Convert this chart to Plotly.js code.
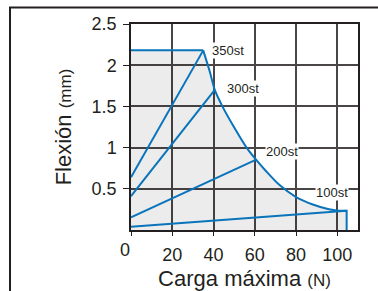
<!DOCTYPE html>
<html>
<head>
<meta charset="utf-8">
<script src="https://cdn.plot.ly/plotly-3.0.1.min.js"></script>
<style>
  html, body { margin: 0; padding: 0; background: #fff; }
</style>
</head>
<body>
<div id="chart" style="width:378px;height:291px"></div>
<script>
// ---- data ----
const strokeLabels = ['350st', '300st', '200st', '100st'];
const lineStartY   = [0.64, 0.41, 0.155, 0.04];   // deflection at 0 N
const lineEndX     = [35, 40.6, 60.4, 104.5];     // max load (N)
const lineEndY     = [2.18, 1.70, 0.85, 0.235];   // deflection at max load (mm)

// envelope (upper limit curve)
const topX   = [0, 35];
const topY   = [2.18, 2.18];
const curveX = [35, 38.2, 40.6, 44.3, 49.4, 56, 60.4, 65.6, 72, 80, 88.1, 94.5, 100];
const curveY = [2.18, 1.92, 1.70, 1.50, 1.27, 1.0, 0.86, 0.71, 0.545, 0.40, 0.31, 0.262, 0.235];
const tailX  = [100, 104.5, 104.5];
const tailY  = [0.235, 0.235, 0];

const xTicks = [0, 20, 40, 60, 80, 100];
const yTicks = [0.5, 1, 1.5, 2, 2.5];

// ---- styles ----
const BLUE = '#0a74bb';
const INK = '#231f20';
const GRID = '#4a4646';
const X_RANGE = [0, 110];
const Y_RANGE = [0, 2.5];
const FONT = 'Liberation Sans, Arial, sans-serif';

const traces = [];
// gray filled region (translucent so the grid shows through)
traces.push({
  x: [0].concat(topX, curveX, tailX),
  y: [0].concat(topY, curveY, tailY),
  type: 'scatter', mode: 'lines', fill: 'toself', fillcolor: 'rgba(0,0,0,0.075)',
  line: { width: 0 }, hoverinfo: 'skip', showlegend: false
});
for (let i = 0; i < strokeLabels.length; i++) {
  traces.push({
    x: [0, lineEndX[i]], y: [lineStartY[i], lineEndY[i]],
    type: 'scatter', mode: 'lines', line: { color: BLUE, width: 2 },
    name: strokeLabels[i], showlegend: false
  });
}
traces.push({ x: topX, y: topY, type: 'scatter', mode: 'lines', line: { color: BLUE, width: 2 }, showlegend: false });
traces.push({ x: curveX, y: curveY, type: 'scatter', mode: 'lines', line: { color: BLUE, width: 2, shape: 'spline', smoothing: 0.8 }, showlegend: false });
traces.push({ x: tailX, y: tailY, type: 'scatter', mode: 'lines', line: { color: BLUE, width: 2 }, showlegend: false });

// label anchor positions (layout)
const labelPos = [[47.2, 2.18], [54.4, 1.72], [73.0, 0.95], [97.2, 0.46]];
const annotations = strokeLabels.map((t, i) => ({
  text: t, x: labelPos[i][0], y: labelPos[i][1], xref: 'x', yref: 'y',
  showarrow: false, bgcolor: '#ffffff', borderpad: 0,
  font: { family: FONT, size: 13, color: INK }
}));
annotations.push({
  text: '0', x: 0, y: 0, xref: 'x', yref: 'paper', xanchor: 'center', yanchor: 'top',
  xshift: -6, yshift: -8, showarrow: false,
  font: { family: FONT, size: 18, color: INK }
});

// outer frame (left and top border of the figure)
const shapes = [{
  type: 'path', xref: 'paper', yref: 'paper',
  path: 'M -0.533 -0.5 L -0.533 1.080 L 1.5 1.080',
  line: { color: INK, width: 2 }
}];

const layout = {
  width: 378, height: 291,
  margin: { l: 131, r: 20, t: 24, b: 61 },
  paper_bgcolor: '#ffffff', plot_bgcolor: '#ffffff',
  font: { family: FONT, color: INK },
  showlegend: false,
  xaxis: {
    range: X_RANGE, tickvals: xTicks, ticktext: xTicks.map(v => v === 0 ? '' : String(v)),
    ticks: 'outside', ticklen: 4, tickwidth: 1.3, tickcolor: INK,
    ticklabelstandoff: 4,
    tickfont: { size: 18, color: INK },
    showgrid: true, gridcolor: GRID, gridwidth: 2,
    showline: true, linecolor: INK, linewidth: 1.5, mirror: true, zeroline: false,
    title: { text: 'Carga máxima <span style="font-size:17px">(N)</span>', font: { size: 22, color: INK }, standoff: 6 },
    fixedrange: true
  },
  yaxis: {
    range: Y_RANGE, tickvals: yTicks, ticktext: yTicks.map(v => String(v)),
    ticks: 'outside', ticklen: 6, tickwidth: 1.3, tickcolor: INK,
    ticklabelstandoff: 3,
    tickfont: { size: 18, color: INK },
    showgrid: true, gridcolor: GRID, gridwidth: 2,
    showline: true, linecolor: INK, linewidth: 1.5, mirror: true, zeroline: false,
    title: { text: 'Flexión <span style="font-size:17px">(mm)</span>', font: { size: 22, color: INK }, standoff: 14 },
    fixedrange: true
  },
  annotations: annotations,
  shapes: shapes
};

Plotly.newPlot('chart', traces, layout, { displayModeBar: false });
</script>
</body>
</html>
